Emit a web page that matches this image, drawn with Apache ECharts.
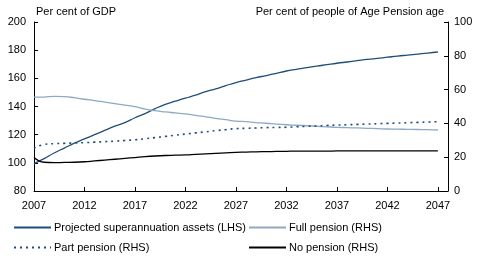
<!DOCTYPE html>
<html><head><meta charset="utf-8">
<script src="https://cdn.jsdelivr.net/npm/echarts@6/dist/echarts.min.js"></script>
<style>html,body{margin:0;padding:0;background:#fff}#c{width:480px;height:260px}</style>
</head><body><div id="c"></div>
<script>
const years = ['2007','2008','2009','2010','2011','2012','2013','2014','2015','2016','2017','2018','2019','2020','2021','2022','2023','2024','2025','2026','2027','2028','2029','2030','2031','2032','2033','2034','2035','2036','2037','2038','2039','2040','2041','2042','2043','2044','2045','2046','2047',''];
const superAssets = [99.5,103,107,110.5,114,117,120,123,126,128.5,132,135,138.5,141.5,143.8,146,148,150.5,152.5,154.8,157,158.8,160.5,162,163.6,165.2,166.4,167.6,168.7,169.7,170.7,171.6,172.5,173.4,174.2,175,175.8,176.5,177.2,177.9,178.7];
const fullPension = [55.5,55.6,56,55.8,55.2,54.3,53.5,52.6,51.7,50.8,49.9,48.5,47.5,46.8,46.2,45.6,44.8,43.9,43,42.2,41.4,41,40.5,40.1,39.6,39.2,38.9,38.6,38.3,38,37.7,37.5,37.3,37.1,36.9,36.7,36.6,36.5,36.4,36.3,36.1];
const partPension = [25.3,27.5,28,28.2,28.4,28.6,28.9,29.2,29.5,29.9,30.3,30.9,31.6,32.3,33,33.7,34.4,35,35.7,36.3,36.9,37.1,37.3,37.5,37.6,37.7,38,38.3,38.5,38.8,39,39.2,39.4,39.6,39.8,40,40.2,40.4,40.6,40.8,41];
const noPension = [19.8,17,16.8,16.9,17,17.3,17.8,18.3,18.8,19.3,19.8,20.3,20.7,21,21.2,21.4,21.7,22,22.3,22.6,22.9,23,23.2,23.3,23.4,23.5,23.6,23.6,23.6,23.6,23.7,23.7,23.7,23.7,23.7,23.7,23.7,23.7,23.7,23.7,23.7];
const names = ['Projected superannuation assets (LHS)','Full pension (RHS)','Part pension (RHS)','No pension (RHS)'];

const font = 'Liberation Sans, Arial, sans-serif';
const chart = echarts.init(document.getElementById('c'), null, {renderer:'canvas'});
function leg(name, left, top){
  return {data:[name], left:left, top:top, padding:0, itemWidth:37, itemHeight:10,
    itemStyle:{opacity:0, borderWidth:0},
    textStyle:{fontFamily:font, fontSize:11, color:'#000', padding:[0,0,0,-2]}};
}
chart.setOption({
  animation:false,
  textStyle:{fontFamily:font},
  grid:{left:34, right:32, top:22, bottom:69},
  legend:[
    leg(names[0], 13, 222),
    leg(names[1], 248, 222),
    leg(names[2], 13, 242),
    leg(names[3], 248, 242)
  ],
  xAxis:{type:'category', data:years, boundaryGap:false,
    axisLine:{lineStyle:{color:'#000', width:1}},
    axisTick:{inside:true, length:4, interval:4, lineStyle:{color:'#000'}},
    axisLabel:{interval:4, color:'#000', fontSize:11, margin:9, fontFamily:font},
    splitLine:{show:false}},
  yAxis:[
    {type:'value', min:80, max:200, interval:20, position:'left',
     name:'Per cent of GDP', nameLocation:'end', nameGap:5,
     nameTextStyle:{align:'left', color:'#000', fontSize:11, fontFamily:font, padding:[0,0,0,2]},
     axisLine:{show:true, lineStyle:{color:'#000'}},
     axisTick:{show:true, inside:true, length:4, lineStyle:{color:'#000'}},
     axisLabel:{color:'#000', fontSize:11, margin:8, fontFamily:font},
     splitLine:{show:false}},
    {type:'value', min:0, max:100, interval:20, position:'right',
     name:'Per cent of people of Age Pension age', nameLocation:'end', nameGap:5,
     nameTextStyle:{align:'right', color:'#000', fontSize:11, fontFamily:font, padding:[0,4,0,0]},
     axisLine:{show:true, lineStyle:{color:'#000'}},
     axisTick:{show:true, inside:true, length:4, lineStyle:{color:'#000'}},
     axisLabel:{color:'#000', fontSize:11, margin:6, fontFamily:font},
     splitLine:{show:false}}
  ],
  series:[
    {name:names[0], type:'line', yAxisIndex:0, data:superAssets, symbol:'none', smooth:true,
     lineStyle:{color:'#1f4e79', width:1.3}, itemStyle:{color:'#1f4e79'}},
    {name:names[1], type:'line', yAxisIndex:1, data:fullPension, symbol:'none', smooth:true,
     lineStyle:{color:'#8fa9c2', width:1.3}, itemStyle:{color:'#8fa9c2'}},
    {name:names[2], type:'line', yAxisIndex:1, data:partPension, symbol:'none', smooth:true,
     lineStyle:{color:'#1f4e79', width:1.6, type:[2,4]}, itemStyle:{color:'#1f4e79'}},
    {name:names[3], type:'line', yAxisIndex:1, data:noPension, symbol:'none', smooth:true,
     lineStyle:{color:'#000', width:1.3}, itemStyle:{color:'#000'}}
  ]
});
</script></body></html>
